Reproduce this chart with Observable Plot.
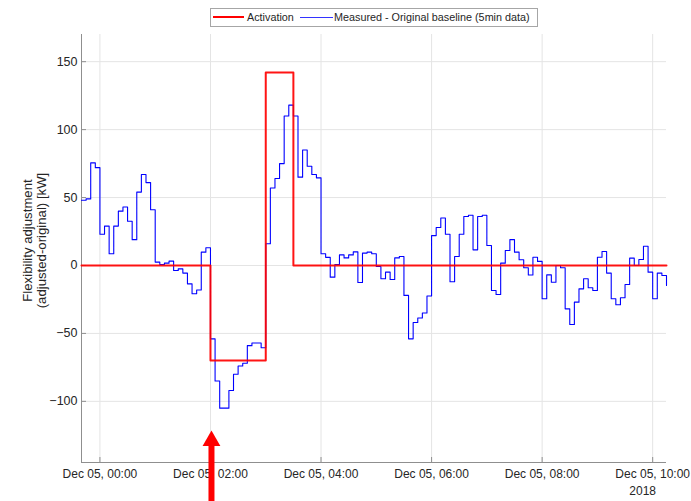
<!DOCTYPE html>
<html>
<head>
<meta charset="utf-8">
<script src="https://cdn.jsdelivr.net/npm/d3@7"></script>
<script src="https://cdn.jsdelivr.net/npm/@observablehq/plot@0.6"></script>
<style>
  body { margin: 0; background: #fff; font-family: "Liberation Sans", Arial, Helvetica, sans-serif; }
  #wrap { position: relative; width: 691px; height: 501px; }
  #legend { position: absolute; left: 210px; top: 8px; width: 326px; height: 17px; border: 1px solid #a6a6a6; background: #fff; font-size: 10.8px; color: #262626; }
  #legend .sw { position: absolute; }
  #legend .lb { position: absolute; top: 2px; line-height: 13px; white-space: nowrap; }
</style>
</head>
<body>
<div id="wrap">
  <div id="chart"></div>
  <div id="legend"></div>
</div>
<script>
// ---- data ----
const seriesNames = ["Activation", "Measured - Original baseline (5min data)"];
const startTime = "2018-12-04T23:40:00Z";   // first 5-min sample
const stepMinutes = 5;
// Measured - Original baseline (kW), one value per 5 min from 23:40
const measured = [
  48, 49, 75.5, 72, 23, 29, 8.6, 29, 40, 43,
  32.6, 19, 54, 67, 61, 41, 2.5, 0.7, 1.7, 3.2,
  -3.7, -2.5, -5.6, -13.5, -20.8, -18, 9.8, 13, -54, -85,
  -105, -105, -92, -80, -74, -72, -59, -57, -57, -60.5,
  16, 57, 64, 75, 110, 118, 110, 65, 85, 73,
  67, 64.5, 8.6, 6, -8.6, 0.7, 7.8, 5.6, 7.8, 10,
  -12.5, 9.1, 9.8, 8.6, -0.7, -9.8, -4.9, -10.3, 5.6, 6.6,
  -22, -54, -42, -38.7, -35, -22.5, 22, 28, 35, 23,
  -12, 6.6, 23, 36, 37, 11.5, 36, 37, 14.7, -18.4,
  -21.3, 1.7, 11, 19, 9.8, 4.2, -1.7, -7, 6.1, 3,
  -24.5, -6.9, -12.3, 0, -1.7, -31.9, -43.4, -27, -17.2, -9.8,
  -16.4, -18.4, 6.1, 10.3, -5.6, -24.5, -28.9, -23.8, -14, 5.4,
  0, 4.4, 14.2, -4.9, -24.5, -5.6, -7.4, -14.7
];
// Activation (kW), step changes
const activationTimes = ["2018-12-04T23:40:00Z", "2018-12-05T02:00:00Z", "2018-12-05T03:00:00Z", "2018-12-05T03:30:00Z", "2018-12-05T10:15:00Z"];
const activationValues = [0, -70, 142, 0, 0];
// axes
const xDomain = ["2018-12-04T23:40:00Z", "2018-12-05T10:15:00Z"];
const xTickTimes = ["2018-12-05T00:00:00Z", "2018-12-05T02:00:00Z", "2018-12-05T04:00:00Z", "2018-12-05T06:00:00Z", "2018-12-05T08:00:00Z", "2018-12-05T10:00:00Z"];
const yDomain = [-145, 170];
const yTicks = [-100, -50, 0, 50, 100, 150];
const yLabel = "Flexibility adjustment\n(adjusted-original) [kW]";
const yearLabel = "2018";
// red arrow annotation (points at 02:00, below the axes)
const arrowTime = "2018-12-05T02:00:00Z";
const arrowHeadValue = -129;
const arrowShaft = [-132.5, -174];

// ---- build ----
const t0 = new Date(startTime).getTime();
const measuredData = measured.map((v, i) => ({ t: new Date(t0 + i * stepMinutes * 60000), v }));
const activationData = activationTimes.map((t, i) => ({ t: new Date(t), v: activationValues[i] }));
const xTicks = xTickTimes.map(d => new Date(d));
const fmt = d3.utcFormat("%b %d, %H:%M");
const axisColor = "#8f8f8f";
const gridColor = "#e4e4e4";
const textColor = "#262626";
const xMin = new Date(xDomain[0]);

const chart = Plot.plot({
  width: 691,
  height: 501,
  marginLeft: 81,
  marginRight: 25,
  marginTop: 34,
  marginBottom: 39,
  style: { fontFamily: '"Liberation Sans", Arial, Helvetica, sans-serif', fontSize: "12px", color: textColor, background: "transparent", overflow: "visible" },
  x: { type: "utc", domain: xDomain.map(d => new Date(d)) },
  y: { domain: yDomain },
  marks: [
    Plot.gridX(xTicks, { stroke: gridColor, strokeOpacity: 1 }),
    Plot.gridY(yTicks, { stroke: gridColor, strokeOpacity: 1 }),
    Plot.ruleX([xMin], { stroke: axisColor }),
    Plot.ruleY([yDomain[0]], { stroke: axisColor }),
    Plot.axisX(xTicks, { tickSize: 5, dy: -5, tickFormat: () => "", stroke: axisColor, label: null }),
    Plot.axisY(yTicks, { tickSize: 5, dx: 5, tickFormat: () => "", stroke: axisColor, label: null }),
    Plot.axisX(xTicks, { tickSize: 0, tickPadding: 7, tickFormat: fmt, label: null, fill: textColor, fontSize: 12 }),
    Plot.axisY(yTicks, { tickSize: 0, tickPadding: 4, label: null, fill: textColor, fontSize: 12.5 }),
    Plot.text([yearLabel], { x: () => xTicks[xTicks.length - 1], y: () => yDomain[0], dy: 29, dx: -10, fill: textColor, fontSize: 12 }),
    Plot.text([yLabel], { frameAnchor: "left", textAnchor: "middle", rotate: -90, dx: -46.5, dy: -8, fontSize: 13.2, lineHeight: 1.06, fill: textColor }),
    Plot.line(measuredData, { x: "t", y: "v", curve: "step-after", stroke: "#0000ff", strokeWidth: 1.1 }),
    Plot.line(activationData, { x: "t", y: "v", curve: "step-after", stroke: "#ff0000", strokeWidth: 2, strokeOpacity: 0.92 }),
    Plot.ruleX([new Date(arrowTime)], { y1: arrowShaft[0], y2: arrowShaft[1], stroke: "#ff0000", strokeWidth: 6, dx: 1 }),
    Plot.dot([new Date(arrowTime)], { x: d => d, y: () => arrowHeadValue, symbol: "triangle", r: 6.6, fill: "#ff0000", stroke: "none", dx: 1 })
  ]
});
document.getElementById("chart").appendChild(chart);

// legend
const legend = document.getElementById("legend");
const items = [
  { name: seriesNames[0], color: "#ff0000", w: 2, top: 7, sx: 2, sw: 31, tx: 36 },
  { name: seriesNames[1], color: "#3333ff", w: 1, top: 8, sx: 89, sw: 33, tx: 123 }
];
for (const it of items) {
  const s = document.createElement("div");
  s.className = "sw";
  s.style.left = it.sx + "px";
  s.style.top = it.top + "px";
  s.style.width = it.sw + "px";
  s.style.height = it.w + "px";
  s.style.background = it.color;
  legend.appendChild(s);
  const l = document.createElement("div");
  l.className = "lb";
  l.style.left = it.tx + "px";
  l.textContent = it.name;
  legend.appendChild(l);
}
</script>
</body>
</html>
